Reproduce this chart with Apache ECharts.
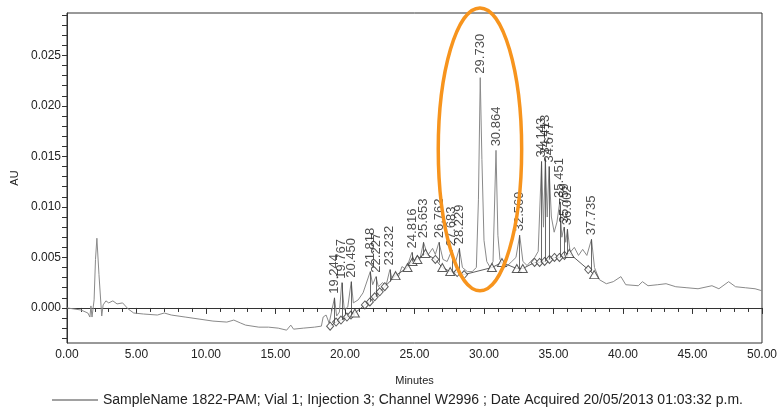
<!DOCTYPE html>
<html>
<head>
<meta charset="utf-8">
<script src="https://cdn.jsdelivr.net/npm/echarts@6/dist/echarts.min.js"></script>
<style>
  html, body { margin: 0; padding: 0; background: #fff; }
  #chart { width: 780px; height: 407px; }
</style>
</head>
<body>
<div id="chart"></div>
<script>
// Chromatogram trace (minutes, AU) between the labelled peaks
const traceTimes = [
  0, 0.5, 1.0, 1.5, 1.65, 1.72, 1.8, 1.95, 2.05, 2.15, 2.3, 2.45, 2.5, 2.6, 2.8, 3.0, 3.3, 3.6, 4.0, 4.4, 4.8,
  5.5, 6.5, 7.0, 7.5, 8.5, 9.5, 10.5, 11.5, 12.0, 12.5, 12.85, 13.8, 14.5, 15.2, 15.8, 16.1, 16.3, 17.0, 17.8,
  18.3, 18.43, 18.64, 18.86, 19.40, 19.60, 19.95, 20.20, 20.60, 20.95, 21.30, 21.99, 22.40, 22.70, 22.95,
  23.40, 23.65, 23.85, 24.10, 24.40, 24.95, 25.20, 25.40, 25.95, 26.30, 26.50, 27.05, 27.35, 27.90, 28.45,
  28.80, 29.15, 29.45, 29.60, 29.85, 30.00, 30.20, 30.45, 30.65, 31.00, 31.15, 31.45, 31.70, 32.00, 32.30,
  32.80, 33.10, 33.35, 33.65, 33.90, 34.28, 34.55, 34.85, 35.05, 35.25, 35.60, 35.88, 36.20, 36.50, 36.80,
  37.10, 37.40, 37.95, 38.30, 38.8, 39.3, 39.85, 40.2, 41.1, 41.4, 41.8, 42.5, 43.1, 43.8, 44.6, 45.4, 46.4,
  46.9, 47.6, 48.1, 48.8, 49.5, 50.0
];
const traceValues = [
  0.0000, -0.0001, -0.0002, -0.0005, -0.0009, 0.0002, -0.0009, 0.0008, 0.0048, 0.0069, 0.0033, 0.0002, -0.0008, 0.0003, 0.0007, 0.0005, 0.0007, 0.0004, 0.0005, -0.0001, -0.0005,
  -0.0006, -0.0007, -0.0005, -0.0007, -0.0009, -0.0011, -0.0013, -0.0014, -0.0012, -0.0015, -0.0017, -0.0019, -0.0019, -0.0020, -0.0022, -0.0017, -0.0021, -0.0020, -0.0019,
  -0.0018, -0.0009, -0.0007, -0.0015, -0.0008, -0.0004, -0.0002, 0.0001, 0.0005, 0.0008, 0.0015, 0.0023, 0.0021, 0.0025, 0.0022,
  0.0028, 0.0035, 0.0031, 0.0041, 0.0038, 0.0046, 0.0052, 0.0049, 0.0052, 0.0059, 0.0053, 0.0048, 0.0046, 0.0043, 0.0040,
  0.0036, 0.0036, 0.0040, 0.0107, 0.0147, 0.0067, 0.0046, 0.0040, 0.0046, 0.0072, 0.0048, 0.0040, 0.0042, 0.0046, 0.0050,
  0.0046, 0.0042, 0.0046, 0.0050, 0.0056, 0.0080, 0.0090, 0.0090, 0.0075, 0.0085, 0.0070, 0.0065, 0.0055, 0.0060, 0.0052,
  0.0058, 0.0052, 0.0040, 0.0028, 0.0024, 0.0026, 0.0031, 0.0023, 0.0022, 0.0026, 0.0022, 0.0023, 0.0024, 0.0021, 0.0020, 0.0019, 0.0022,
  0.0019, 0.0026, 0.0021, 0.0020, 0.0019, 0.0017
];

// Integrated peaks: retention time labels, apex heights and baseline under each apex
const peakLabels = ['19.244', '19.767', '20.450', '21.818', '22.227', '23.232', '24.816', '25.653', '26.762',
  '27.683', '28.229', '29.730', '30.864', '32.569', '34.143', '34.413', '34.677', '35.451', '35.759', '36.002', '37.735'];
const peakHeights = [0.0010, 0.0025, 0.0026, 0.0036, 0.0031, 0.0038, 0.0055, 0.0065, 0.0065,
  0.0057, 0.0059, 0.0228, 0.0156, 0.0072, 0.0145, 0.0148, 0.0140, 0.0105, 0.0080, 0.0078, 0.0068];
const peakDropBase = [-0.0015, -0.0012, -0.0007, 0.0006, 0.0011, 0.0026, 0.0046, 0.0052, 0.0045,
  0.0036, 0.0035, null, null, 0.0039, 0.0045, 0.0046, 0.0048, 0.0050, 0.0052, 0.0053, 0.0036];

// Peak start/end markers on the integration baseline ('d' diamond, 't' triangle)
const baseTimes = [18.93, 19.36, 19.71, 20.14, 20.43, 20.71, 21.43, 21.79, 22.14, 22.50, 22.86, 23.64, 24.50, 24.86,
  25.21, 25.79, 26.50, 27.00, 27.57, 28.07, 28.57, 30.57, 31.29, 32.36, 32.79, 33.64, 34.00, 34.36, 34.71,
  35.07, 35.43, 35.79, 36.14, 37.50, 37.93];
const baseValues = [-0.0018, -0.0014, -0.0012, -0.0009, -0.0007, -0.0005, 0.0003, 0.0006, 0.0011, 0.0016, 0.0021, 0.0032, 0.0040, 0.0046,
  0.0048, 0.0054, 0.0048, 0.0040, 0.0036, 0.0035, 0.0033, 0.0040, 0.0045, 0.0039, 0.0039, 0.0045, 0.0045, 0.0046, 0.0048,
  0.0050, 0.0050, 0.0052, 0.0054, 0.0038, 0.0033];
const baseKinds = ['d', 'd', 'd', 'd', 'd', 't', 'd', 'd', 'd', 'd', 'd', 't', 't', 't',
  't', 't', 'd', 't', 't', 'd', 'd', 't', 't', 't', 't', 'd', 'd', 'd', 'd',
  'd', 'd', 'd', 't', 'd', 't'];

// Axis ticks and labels
const xMin = 0, xMax = 50, xStep = 5;
const yMin = -0.00347, yMax = 0.0292;
const yTickValues = [-0.003, -0.002, -0.001, 0, 0.001, 0.002, 0.003, 0.004, 0.005, 0.006, 0.007, 0.008, 0.009,
  0.010, 0.011, 0.012, 0.013, 0.014, 0.015, 0.016, 0.017, 0.018, 0.019, 0.020, 0.021, 0.022, 0.023, 0.024,
  0.025, 0.026, 0.027, 0.028, 0.029];
const yLabelValues = [0, 0.005, 0.010, 0.015, 0.020, 0.025];

const sampleName = 'SampleName 1822-PAM; Vial 1; Injection 3; Channel W2996 ; Date Acquired 20/05/2013 01:03:32 p.m.';

// Highlighted region around the two main peaks (centre and half extents in data units)
const highlightCenter = [29.71, 0.0157];
const highlightHalf = [3.0, 0.0140];

// Build the full trace: baseline points plus labelled apexes, in time order
const tracePoints = traceTimes.map((t, i) => [t, traceValues[i]])
  .concat(peakLabels.map((l, i) => [parseFloat(l), peakHeights[i]]))
  .sort((a, b) => a[0] - b[0]);

const peakPoints = peakLabels.map((l, i) => ({ value: [parseFloat(l), peakHeights[i]], name: l }));
const dropLines = [];
peakLabels.forEach((l, i) => {
  if (peakDropBase[i] !== null) {
    dropLines.push([{ coord: [parseFloat(l), peakHeights[i]] }, { coord: [parseFloat(l), peakDropBase[i]] }]);
  }
});
const markerPoints = baseTimes.map((t, i) => ({
  value: [t, baseValues[i]],
  symbol: baseKinds[i] === 'd' ? 'diamond' : 'triangle',
  symbolSize: baseKinds[i] === 'd' ? [7, 8] : [9, 8]
}));

const font = 'Liberation Sans, Arial, sans-serif';
const chart = echarts.init(document.getElementById('chart'), null, { renderer: 'canvas' });

chart.setOption({
  animation: false,
  backgroundColor: '#ffffff',
  textStyle: { fontFamily: font },
  grid: { left: 67, right: 13, top: 13, bottom: 64, show: true, borderColor: '#333', borderWidth: 1 },
  legend: {
    left: 47, top: 388,
    itemWidth: 46, itemHeight: 14, itemGap: 5,
    data: [{ name: sampleName, icon: 'path://M0,7 L46,7 L46,8 L0,8 Z', itemStyle: { color: '#444' } }],
    textStyle: { fontFamily: font, fontSize: 14, color: '#222' }
  },
  xAxis: {
    type: 'value', min: xMin, max: xMax, interval: xStep,
    name: 'Minutes', nameLocation: 'middle', nameGap: 32,
    nameTextStyle: { fontFamily: font, fontSize: 11, color: '#222' },
    axisLine: { lineStyle: { color: '#333' } },
    axisTick: { show: true, length: 6, lineStyle: { color: '#333' } },
    minorTick: { show: true, splitNumber: 5, length: 4, lineStyle: { color: '#333' } },
    splitLine: { show: false },
    axisLabel: { fontSize: 12, color: '#222', margin: 6, formatter: v => v.toFixed(2) }
  },
  yAxis: {
    type: 'value', min: yMin, max: yMax,
    name: 'AU', nameLocation: 'middle', nameGap: 44, nameRotate: 90,
    nameTextStyle: { fontFamily: font, fontSize: 11, color: '#222' },
    axisLine: { show: true, lineStyle: { color: '#333' } },
    axisTick: { show: true, length: 5, customValues: yTickValues, lineStyle: { color: '#333' } },
    splitLine: { show: false },
    axisLabel: { fontSize: 12, color: '#222', margin: 6, customValues: yLabelValues, formatter: v => v.toFixed(3) }
  },
  series: [
    {
      name: sampleName,
      type: 'line',
      data: tracePoints,
      showSymbol: false,
      symbol: 'none',
      lineStyle: { color: '#8a8a8a', width: 1 },
      itemStyle: { color: '#444' },
      z: 2
    },
    {
      name: 'baseline',
      type: 'line',
      data: baseTimes.map((t, i) => [t, baseValues[i]]),
      showSymbol: false,
      symbol: 'none',
      lineStyle: { color: '#333', width: 0.8 },
      z: 3
    },
    {
      name: 'markers',
      type: 'scatter',
      data: markerPoints,
      itemStyle: { color: '#ffffff', borderColor: '#333', borderWidth: 1 },
      z: 4
    },
    {
      name: 'peaks',
      type: 'scatter',
      data: peakPoints,
      symbolSize: 0,
      label: {
        show: true,
        position: 'top',
        distance: 4,
        rotate: 90,
        align: 'left',
        verticalAlign: 'middle',
        formatter: p => p.name,
        fontFamily: font,
        fontSize: 13,
        color: '#222'
      },
      markLine: {
        silent: true,
        symbol: 'none',
        label: { show: false },
        lineStyle: { color: '#444', width: 0.8, type: 'solid' },
        data: dropLines
      },
      z: 5
    }
  ]
});

// Orange ellipse drawn around the two main peaks
const c = chart.convertToPixel({ gridIndex: 0 }, highlightCenter);
const e = chart.convertToPixel({ gridIndex: 0 }, [highlightCenter[0] + highlightHalf[0], highlightCenter[1] + highlightHalf[1]]);
chart.setOption({
  graphic: [{
    type: 'ellipse',
    shape: { cx: c[0], cy: c[1], rx: Math.abs(e[0] - c[0]), ry: Math.abs(c[1] - e[1]) },
    style: { fill: 'none', stroke: '#F7941D', lineWidth: 3.5 },
    z: 100
  }]
});
</script>
</body>
</html>
